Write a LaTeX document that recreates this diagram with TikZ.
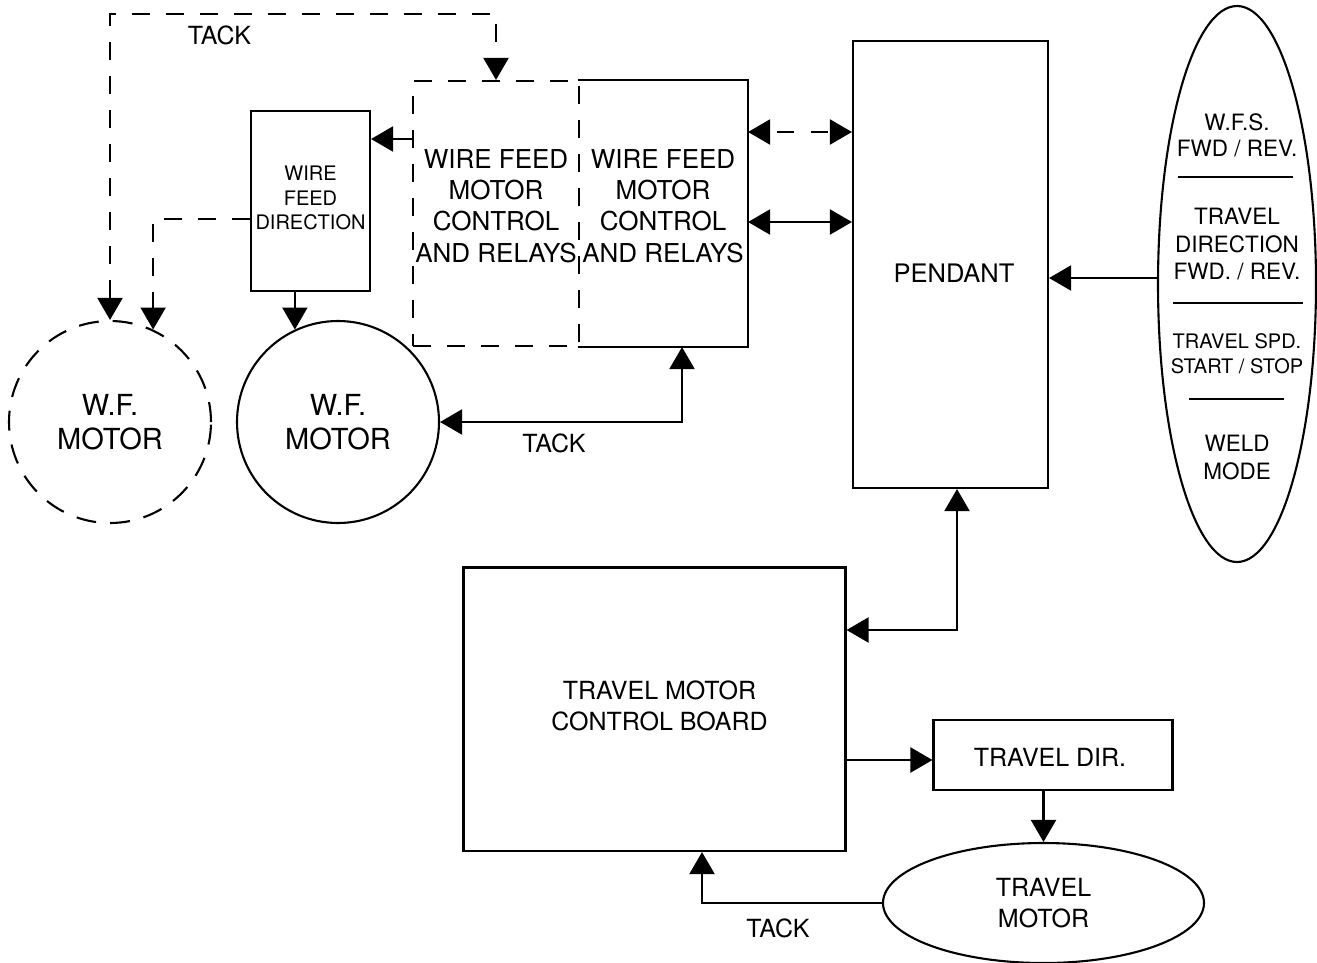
\documentclass[tikz,border=0pt]{standalone}
\usepackage{fontspec}
\setmainfont{TeX Gyre Heros}
\usetikzlibrary{arrows.meta,shapes.geometric}
\begin{document}
\begin{tikzpicture}[x=1pt,y=-1pt,
  line width=2.1pt,
  >={Triangle[length=22pt,width=25pt]},
  box/.style={draw, rectangle, inner sep=0pt, align=center},
  txt/.style={font=\fontsize{25}{31}\selectfont, align=center},
  big/.style={font=\fontsize{26}{31.3}\selectfont, align=center},
  dsh/.style={dash pattern=on 18pt off 16pt},
  sml/.style={font=\fontsize{20}{24.5}\selectfont, align=center}
]
\useasboundingbox (0,0) rectangle (1317,962);

% wire feed control boxes
\node[box, dsh, minimum width=166pt, minimum height=265pt] (dbox) at (496,213.5) {};
\node[big] (dboxt) at (496,206) {WIRE FEED\\MOTOR\\CONTROL\\AND RELAYS};
\node[rectangle, inner sep=0pt, minimum width=168pt, minimum height=265pt] (sbox) at (663,213.5) {};
\node[big] (sboxt) at (663,206) {WIRE FEED\\MOTOR\\CONTROL\\AND RELAYS};
\draw (sbox.north west) -- (sbox.north east) -- (sbox.south east) -- (sbox.south west);

% wire feed direction
\node[box, minimum width=119pt, minimum height=180pt] (wfd) at (310.5,201) {};
\node[sml] (wfdt) at (310.5,198) {WIRE\\FEED\\DIRECTION};

% pendant
\node[box, minimum width=195pt, minimum height=447pt] (pend) at (950.5,264.5) {};
\node[font=\fontsize{25.5}{31}\selectfont] (pendt) at (954,273) {PENDANT};

% right ellipse
\node[draw, ellipse, minimum width=158pt, minimum height=556pt, inner sep=0pt] (rel) at (1237,284) {};
\node[font=\fontsize{22.5}{26}\selectfont, align=center] (t1) at (1237,135) {W.F.S.\\FWD / REV.};
\node[font=\fontsize{22.5}{27.5}\selectfont, align=center] (t2) at (1237,244.5) {TRAVEL\\DIRECTION\\FWD. / REV.};
\node[font=\fontsize{20}{25}\selectfont, align=center] (t3) at (1237,353.5) {TRAVEL SPD.\\START / STOP};
\node[font=\fontsize{22.5}{28}\selectfont, align=center] (t4) at (1237,457) {WELD\\MODE};
\draw (1178,177) -- (1293,177);
\draw (1173,303) -- (1303,303);
\draw (1189,399) -- (1284,399);

% motors
\node[draw, circle, minimum size=202pt, inner sep=0pt, font=\fontsize{29}{34}\selectfont, align=center] (wfm) at (338,422) {W.F.\\MOTOR};
\node[draw, dash pattern=on 20pt off 14pt, circle, minimum size=202pt, inner sep=0pt, font=\fontsize{29}{34}\selectfont, align=center] (dwf) at (110,422) {W.F.\\MOTOR};

% travel
\node[box, minimum width=382pt, minimum height=283.5pt] (board) at (654.5,709.25) {};
\node[txt] (boardt) at (659.5,706) {TRAVEL MOTOR\\CONTROL BOARD};
\node[box, minimum width=239pt, minimum height=70pt] (tdir) at (1053,755) {};
\node[txt] (tdirt) at (1050,757.5) {TRAVEL DIR.};
\node[draw, ellipse, minimum width=321pt, minimum height=120pt, inner sep=0pt, txt] (tmot) at (1043.5,903) {TRAVEL\\MOTOR};

% labels
\node[txt] (tack0) at (219.5,35) {TACK};
\node[txt] (tack1) at (554,443) {TACK};
\node[txt] (tack2) at (778,928) {TACK};

% connectors
\coordinate (tk) at (300,14);
\draw[dsh,<->] (dwf.north) |- (tk) -| (dbox.north);
\draw[dsh,->] ([yshift=-18pt]wfd.west) -| (dwf.65);
\draw[->] ([yshift=74.5pt]dbox.west) -- ([yshift=74.5pt]dbox.west -| wfd.east);
\draw[->] (wfd.south -| wfm.115) -- (wfm.115);
\draw[dash pattern=on 17pt off 17pt, dash phase=-7pt,<->] ([yshift=81.5pt]sbox.east) -- ([yshift=81.5pt]sbox.east -| pend.west);
\draw[<->] ([yshift=-8.5pt]sbox.east) -- ([yshift=-8.5pt]sbox.east -| pend.west);
\coordinate (pin) at (1158.5,278);
\draw[->] (pin) -- (pin -| pend.east);
\draw[<->] (wfm.east) -| ([xshift=19pt]sbox.south);
\draw[<->] ([xshift=6.5pt]pend.south) |- ([yshift=79.25pt]board.east);
\draw[->] ([yshift=-5pt]tdir.west -| board.east) -- ([yshift=-5pt]tdir.west);
\draw[->] (tdir.south -| tmot.north) -- (tmot.north);
\draw[->] (tmot.west) -| ([xshift=47.5pt]board.south);
\end{tikzpicture}
\end{document}
